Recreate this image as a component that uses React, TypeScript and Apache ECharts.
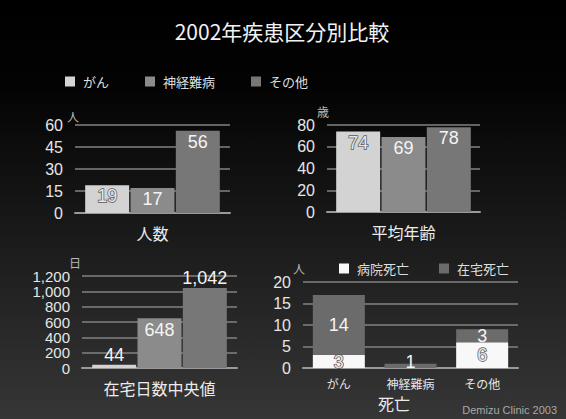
import React, { useEffect, useRef } from 'react';
import * as echarts from 'echarts';

const titleText = '2002年疾患区分別比較';
const groups = ['がん', '神経難病', 'その他'];
const groupColors = ['#d3d3d3', '#8b8b8b', '#777777'];
const patientCounts = [19, 17, 56];
const meanAges = [74, 69, 78];
const homeDaysMedian = [44, 648, 1042];
const homeDaysLabelPos = ['top', 'insideTop', 'top'];
const deathSeries = ['病院死亡', '在宅死亡'];
const deathColors = ['#f8f8f8', '#6b6b6b'];
const hospitalDeaths = [3, 0, 6];
const homeDeaths = [14, 1, 3];
const panelCategories = ['人数', '平均年齢', '在宅日数中央値'];
const panelUnits = ['人', '歳', '日', '人'];
const footerText = 'Demizu Clinic 2003';

const FONT = "'Liberation Sans', 'Noto Sans CJK JP', sans-serif";
const CJK = "'Noto Sans CJK JP', 'Liberation Sans', sans-serif";

export default function App() {
  const ref = useRef<HTMLDivElement>(null);
  useEffect(() => {
    if (!ref.current) return;
    const chart = echarts.init(ref.current, null, { renderer: 'svg' });

    const lightLabel = { color: '#e6e6e6', textBorderColor: '#5a5a5a', textBorderWidth: 1.5 };
    const darkLabel = { color: '#f4f4f4' };

    const grids = [
      { left: 75, top: 125, width: 155, height: 88 },
      { left: 327, top: 125, width: 153, height: 87 },
      { left: 82, top: 276, width: 155, height: 92 },
      { left: 303, top: 282, width: 215, height: 86 },
    ];
    const yCfg = [
      { max: 60, interval: 15, pad: 4, gap: 3, fs: 16 },
      { max: 80, interval: 20, pad: 8, gap: 4, fs: 16 },
      { max: 1200, interval: 200, pad: 14, gap: 5, fs: 15 },
      { max: 20, interval: 5, pad: 8, gap: 6, fs: 16 },
    ];

    const xAxis: any[] = [0, 1, 2].map((i) => ({
      type: 'category',
      gridIndex: i,
      data: [panelCategories[i]],
      axisLine: { show: true, lineStyle: { color: '#9a9a9a', width: 2 } },
      axisTick: { show: false },
      axisLabel: { color: '#ececec', fontSize: 16, margin: 12, fontFamily: CJK },
    }));
    xAxis.push({
      type: 'category',
      gridIndex: 3,
      data: groups,
      axisLine: { show: true, lineStyle: { color: '#9a9a9a', width: 2 } },
      axisTick: { show: false },
      axisLabel: { color: '#e6e6e6', fontSize: 12, lineHeight: 13, margin: 9, fontFamily: CJK },
      name: '死亡',
      nameLocation: 'middle',
      nameGap: 26,
      nameTextStyle: {
        color: '#ececec',
        fontSize: 16,
        lineHeight: 17,
        fontFamily: CJK,
        padding: [0, 33, 0, 0],
      },
    });

    const yAxis = yCfg.map((c, i) => ({
      type: 'value',
      gridIndex: i,
      min: 0,
      max: c.max,
      interval: c.interval,
      name: panelUnits[i],
      nameLocation: 'end',
      nameGap: c.gap,
      nameTextStyle: { color: '#b8b8b8', fontSize: 12, fontFamily: CJK, padding: [0, c.pad, 0, 0] },
      axisLine: { show: false },
      axisTick: { show: false },
      splitLine: { show: true, lineStyle: { color: '#828282', width: 1.5 } },
      axisLabel: {
        color: '#e6e6e6',
        fontSize: c.fs,
        margin: 12,
        fontFamily: FONT,
        formatter: (v: number) => v.toLocaleString('en-US'),
      },
    }));

    const series: any[] = [];
    const panels = [patientCounts, meanAges, homeDaysMedian];
    panels.forEach((vals, p) => {
      groups.forEach((g, gi) => {
        const pos = p === 2 ? homeDaysLabelPos[gi] : 'insideTop';
        const isInside = pos !== 'top';
        series.push({
          type: 'bar',
          name: g,
          xAxisIndex: p,
          yAxisIndex: p,
          barWidth: 44,
          barGap: '3%',
          data: [vals[gi]],
          itemStyle: { color: groupColors[gi] },
          label: {
            show: true,
            position: pos,
            distance: p === 2 ? (isInside ? 3 : 1) : 2,
            fontSize: 18,
            fontFamily: FONT,
            formatter: (d: any) => Number(d.value).toLocaleString('en-US'),
            ...(gi === 0 && isInside ? lightLabel : darkLabel),
          },
        });
      });
    });
    [hospitalDeaths, homeDeaths].forEach((vals, si) => {
      series.push({
        type: 'bar',
        name: deathSeries[si],
        xAxisIndex: 3,
        yAxisIndex: 3,
        stack: 'death',
        barWidth: 52,
        data: vals.map((v) => (v > 0 && v < 2 ? { value: v, label: { offset: [0, -4] } } : v)),
        itemStyle: { color: deathColors[si] },
        label: {
          show: true,
          position: 'inside',
          fontSize: 18,
          fontFamily: FONT,
          formatter: (d: any) => (d.value === 0 ? '' : String(d.value)),
          ...(si === 0 ? lightLabel : darkLabel),
        },
      });
    });

    chart.setOption({
      animation: false,
      backgroundColor: new echarts.graphic.LinearGradient(0, 0, 0, 1, [
        { offset: 0, color: '#000000' },
        { offset: 0.2, color: '#030303' },
        { offset: 1, color: '#363636' },
      ]),
      title: {
        text: titleText,
        left: 277,
        top: 15,
        textAlign: 'center',
        textStyle: { color: '#f2f2f2', fontSize: 21, fontWeight: 'normal', fontFamily: CJK },
      },
      legend: [
        {
          data: groups,
          left: 60,
          top: 70,
          icon: 'rect',
          itemWidth: 10,
          itemHeight: 10,
          itemGap: 36,
          textStyle: { color: '#dedede', fontSize: 13, fontFamily: CJK, padding: [0, 0, 0, 3] },
        },
        {
          data: deathSeries,
          left: 334,
          top: 257,
          icon: 'rect',
          itemWidth: 10,
          itemHeight: 10,
          itemGap: 30,
          textStyle: { color: '#dedede', fontSize: 13, fontFamily: CJK, padding: [0, 0, 0, 3] },
        },
      ],
      grid: grids,
      xAxis,
      yAxis,
      series,
      graphic: [
        {
          type: 'text',
          right: 9,
          top: 404,
          style: { text: footerText, fill: '#a8a8a8', fontSize: 11, fontFamily: FONT },
        },
      ],
    });
    return () => chart.dispose();
  }, []);
  return <div ref={ref} style={{ position: 'absolute', left: 0, top: 0, width: 566, height: 419 }} />;
}
